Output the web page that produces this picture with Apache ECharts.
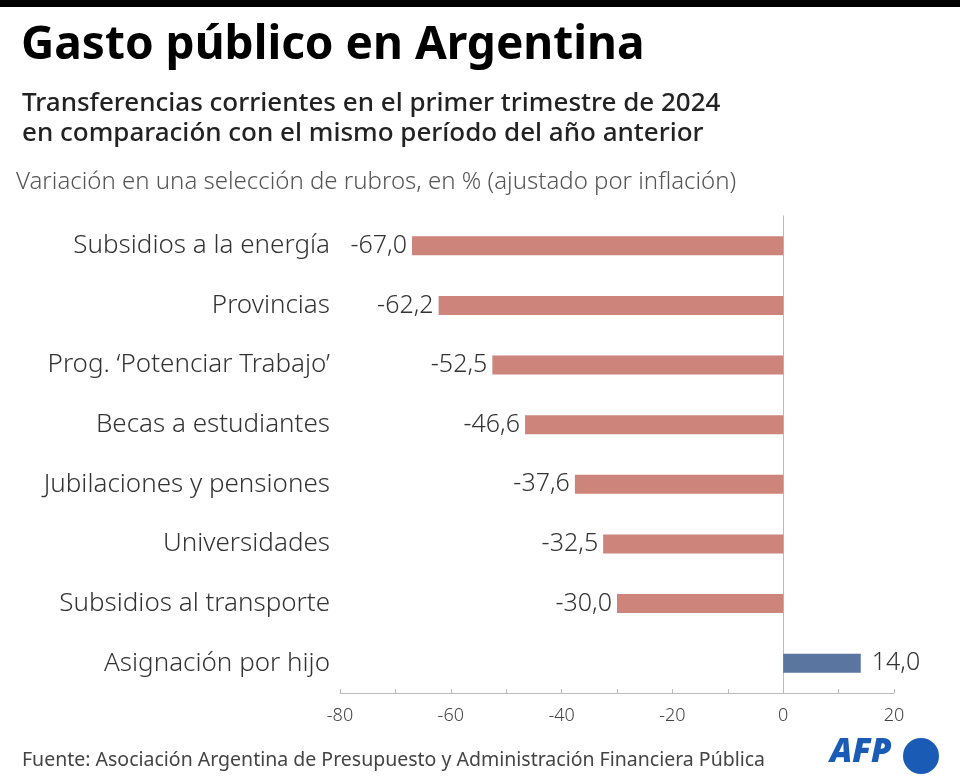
<!DOCTYPE html>
<html><head><meta charset="utf-8">
<script src="https://cdn.jsdelivr.net/npm/echarts@6/dist/echarts.min.js"></script>
<style>html,body{margin:0;padding:0;background:#fff}#c{width:960px;height:783px}</style>
</head><body><div id="c"></div>
<script>
const categories = ["Subsidios a la energía","Provincias","Prog. ‘Potenciar Trabajo’","Becas a estudiantes","Jubilaciones y pensiones","Universidades","Subsidios al transporte","Asignación por hijo"];
const values = [-67.0,-62.2,-52.5,-46.6,-37.6,-32.5,-30.0,14.0];
const xTicks = [-80,-60,-40,-20,0,20];

const FONT = '"Noto Sans", sans-serif';
const chart = echarts.init(document.getElementById('c'));
chart.setOption({
  backgroundColor:'#fff',
  animation:false,
  graphic:[
    {type:'rect',shape:{x:0,y:0,width:960,height:7},style:{fill:'#000'}},
    {type:'text',left:21,top:23,style:{text:'Gasto público en Argentina',font:'bold 46px '+FONT,fill:'#000'}},
    {type:'text',left:22,top:89,style:{text:'Transferencias corrientes en el primer trimestre de 2024\nen comparación con el mismo período del año anterior',font:'500 26px '+FONT,fill:'#222',lineHeight:30}},
    {type:'text',left:16,top:170,style:{text:'Variación en una selección de rubros, en % (ajustado por inflación)',font:'300 24px '+FONT,fill:'#555'}},
    {type:'text',left:22,top:750,style:{text:'Fuente: Asociación Argentina de Presupuesto y Administración Financiera Pública',font:'19.5px '+FONT,fill:'#444'}},
    {type:'text',left:830,top:736,style:{text:'AFP',font:'italic 900 33px '+FONT,fill:'#1a5bb5'}},
    {type:'circle',shape:{cx:921,cy:756,r:18},style:{fill:'#1a5bb5'}}
  ],
  grid:{left:340,top:216,width:554,height:477,containLabel:false},
  xAxis:{type:'value',min:-80,max:20,interval:20,
    axisLine:{show:true,lineStyle:{color:'#bbb',width:1}},
    axisTick:{show:true,inside:true,length:4,lineStyle:{color:'#bbb'}},
    minorTick:{show:true,splitNumber:2,length:4,lineStyle:{color:'#bbb'}},
    splitLine:{show:false},
    axisLabel:{color:'#444',fontFamily:FONT,fontSize:18,fontWeight:300,margin:14,
      formatter:v=>xTicks.includes(v)?String(v):''}
  },
  yAxis:{type:'category',data:categories,inverse:true,
    axisLine:{show:true,onZero:true,lineStyle:{color:'#bbb'}},
    axisTick:{show:false},
    axisLabel:{color:'#333',fontFamily:FONT,fontSize:26,fontWeight:300,margin:10,align:'right',
      formatter:(v)=>v}
  },
  series:[{type:'bar',barWidth:19,
    data:values.map(v=>({value:v,itemStyle:{color:v<0?'#cc847b':'#5a76a0'},
      label:{show:true,position:v<0?'left':'right',distance:v<0?5:11}})),
    label:{color:'#333',fontFamily:FONT,fontSize:25,fontWeight:300,
      formatter:p=>p.value.toFixed(1).replace('.',',')}
  }]
});
</script></body></html>
